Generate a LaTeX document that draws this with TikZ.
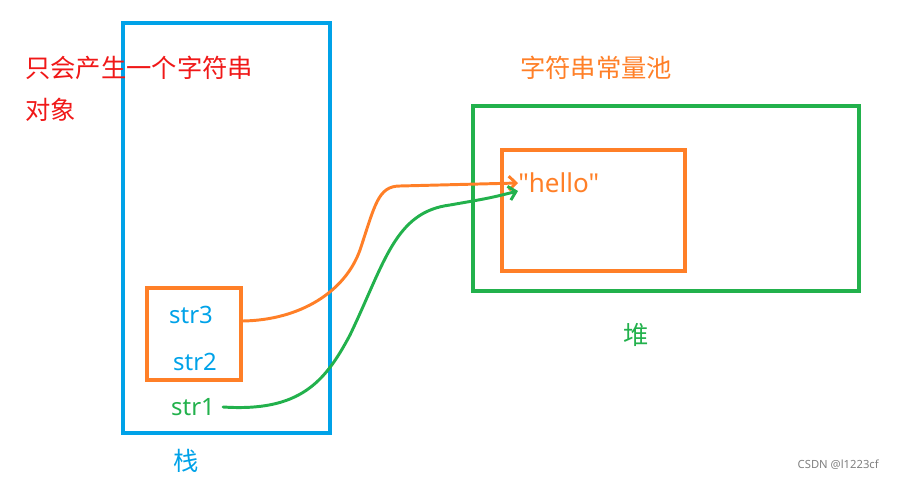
\documentclass[tikz,border=0pt]{standalone}
\usepackage{fontspec}
\setmainfont{Noto Sans CJK SC}
\newfontfamily\latinfont{Noto Sans}
\usetikzlibrary{arrows.meta,positioning}
\definecolor{stackblue}{HTML}{00A2E8}
\definecolor{heapgreen}{HTML}{22B14C}
\definecolor{poolorange}{HTML}{FF7F27}
\definecolor{notered}{HTML}{F01818}

\begin{document}
\begin{tikzpicture}[
    x=0.025cm, y=-0.025cm,
    every node/.style={inner sep=0pt, font=\fontsize{18}{20}\selectfont},
    latin/.style={font=\latinfont\fontsize{17}{20}\selectfont},
    box/.style={draw, line width=2.8pt, inner sep=0pt},
    link/.style={line width=2.1pt, line cap=round, -{Straight Barb[length=5pt,width=10pt]}}
  ]
  \useasboundingbox (0,0) rectangle (908,479);

  % Boxes
  \node (stack)[box, stackblue, minimum width=5.175cm, minimum height=10.25cm] at (226.5,228) {};
  \node (heap)[box, heapgreen, minimum width=9.65cm, minimum height=4.625cm] at (666,198.5) {};
  \node (pool)[box, poolorange, minimum width=4.575cm, minimum height=3.025cm] at (593.5,210.5) {};
  \node (strbox)[box, poolorange, minimum width=2.35cm, minimum height=2.3cm] at (194,334) {};

  % Labels
  \node (tip1)[notered, anchor=west] at (25,68) {只会产生一个字符串};
  \node (tip2)[notered, anchor=west] at (25,110) {对象};
  \node (pooltitle)[poolorange] at (596,68) {字符串常量池};
  \node (hello)[latin, font=\latinfont\fontsize{18.5}{20}\selectfont, poolorange, anchor=west] at (518,183) {"hello"};
  \node (heaplabel)[heapgreen] at (636,335) {堆};
  \node (str3)[latin, stackblue] at (191,315) {str3};
  \node (str2)[latin, stackblue] at (195,362) {str2};
  \node (str1)[latin, heapgreen] at (193,407) {str1};
  \node (stacklabel)[stackblue] at (186,461) {栈};
  \node (mark)[gray, font=\latinfont\fontsize{8}{10}\selectfont, anchor=east] at (879,465) {CSDN @l1223cf};

  % References
  \draw[link, poolorange] ([yshift=0.325cm]strbox.east) .. controls (300,320) and (345,292) .. (360,250)
    .. controls (375,205) and (378,186) .. (400,186) -- (hello.west);
  \draw[link, heapgreen] ([xshift=0.2cm]str1.east) .. controls (300,412) and (325,382) .. (350,335)
    .. controls (385,262) and (395,212) .. (450,205) .. controls (490,198) .. ([yshift=-0.2cm]hello.west);
\end{tikzpicture}
\end{document}
